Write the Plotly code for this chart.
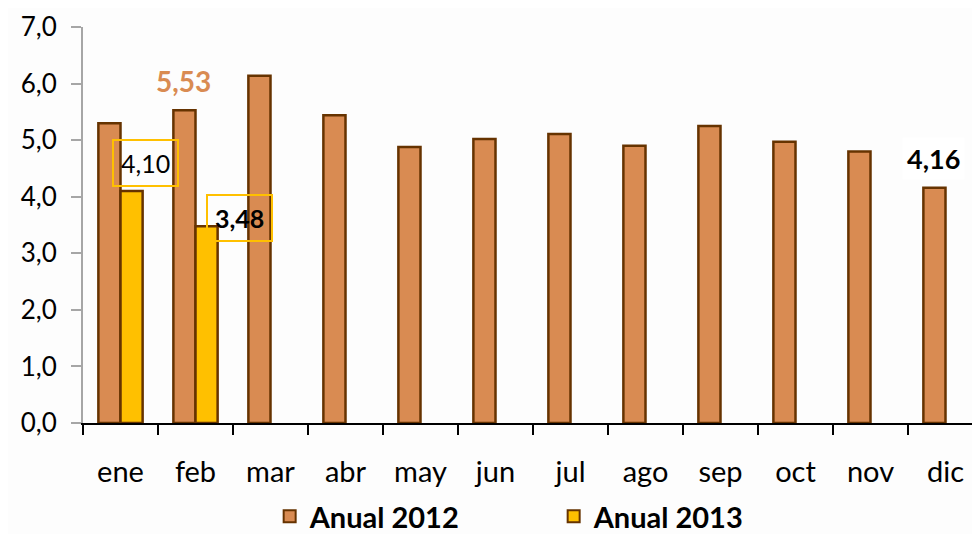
import plotly.graph_objects as go

months = ["ene", "feb", "mar", "abr", "may", "jun", "jul", "ago", "sep", "oct", "nov", "dic"]
anual_2012 = [5.30, 5.53, 6.14, 5.44, 4.88, 5.02, 5.11, 4.90, 5.25, 4.97, 4.80, 4.16]
anual_2013 = [4.10, 3.48, None, None, None, None, None, None, None, None, None, None]
y_ticks = [0, 1, 2, 3, 4, 5, 6, 7]

C2012 = "#D98B52"
C2013 = "#FFC000"
EDGE = "#663300"
FONT = "Lato"

fig = go.Figure()
fig.add_trace(go.Bar(x=months, y=anual_2012, name="<b>Anual 2012</b>",
                     marker=dict(color=C2012, line=dict(color=EDGE, width=2.5))))
fig.add_trace(go.Bar(x=months, y=anual_2013, name="<b>Anual 2013</b>",
                     marker=dict(color=C2013, line=dict(color=EDGE, width=2.5))))

fig.add_annotation(x="feb", y=anual_2012[1], yshift=29, xshift=-12, text="<b>5,53</b>",
                   showarrow=False, font=dict(family=FONT, size=28, color=C2012))
fig.add_annotation(x="ene", y=anual_2013[0], yshift=28, xshift=25, text="4,10",
                   showarrow=False, font=dict(family=FONT, size=25, color="black"),
                   bordercolor=C2013, borderwidth=2, borderpad=7)
fig.add_annotation(x="feb", y=anual_2013[1], yshift=8, xshift=44, text="<b>3,48</b>",
                   showarrow=False, font=dict(family=FONT, size=25, color="black"),
                   bordercolor=C2013, borderwidth=2, borderpad=7)
fig.add_annotation(x="dic", y=anual_2012[11], yshift=29, xshift=-12, text="<b>4,16</b>",
                   showarrow=False, font=dict(family=FONT, size=27, color="black"),
                   bgcolor="white", borderpad=4)

fig.update_layout(
    width=980, height=534,
    margin=dict(l=75, r=5, t=19, b=119, autoexpand=False),
    paper_bgcolor="#FDFDFD", plot_bgcolor="#FDFDFD",
    barmode="group", bargap=0.41, bargroupgap=0,
    separators=",.",
    font=dict(family=FONT, size=26, color="black"),
    showlegend=True,
    legend=dict(orientation="h", xref="container", x=0.267, xanchor="left",
                yref="container", y=0.0, yanchor="bottom",
                font=dict(family=FONT, size=29, color="black"),
                entrywidth=239, itemsizing="constant"),
    xaxis=dict(type="category", showline=True, linecolor="black", linewidth=2,
               ticks="outside", tickson="boundaries", ticklen=10, tickwidth=2,
               tickcolor="black", ticklabelstandoff=22, automargin=False,
               tickfont=dict(family=FONT, size=29), showgrid=False),
    yaxis=dict(range=[0, 7], tickvals=y_ticks, tickformat=".1f",
               showline=True, linecolor="#A6A6A6", linewidth=2,
               ticks="outside", ticklen=10, tickwidth=2, tickcolor="#A6A6A6",
               ticklabelstandoff=9, showgrid=False, zeroline=False, automargin=False,
               ticklabeloverflow="allow",
               tickfont=dict(family=FONT, size=26)),
)
fig.write_html("out.html")
